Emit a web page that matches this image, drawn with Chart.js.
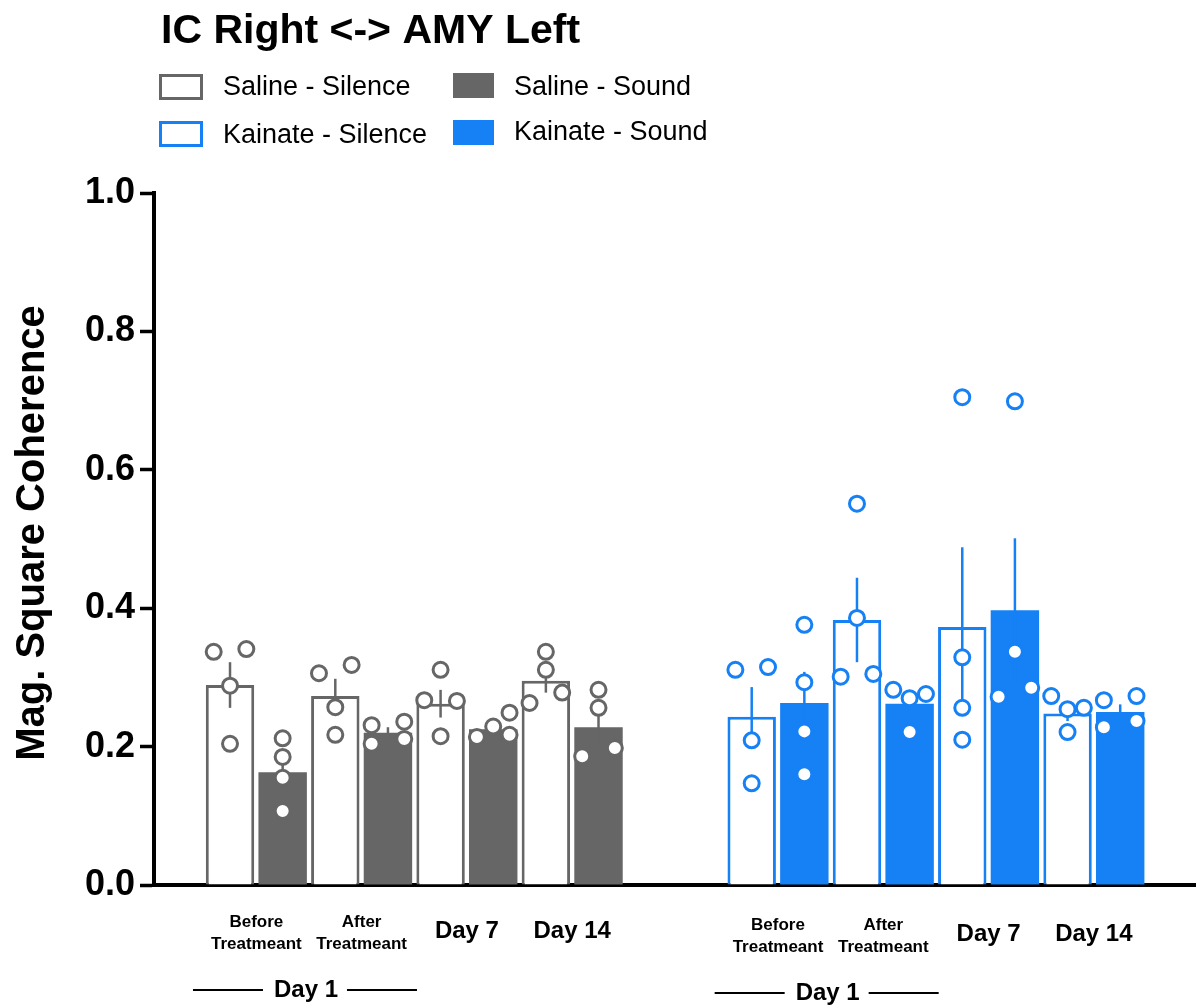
<!DOCTYPE html>
<html>
<head>
<meta charset="utf-8">
<script src="https://cdn.jsdelivr.net/npm/chart.js@4.4.1/dist/chart.umd.min.js"></script>
<style>
  html, body { margin: 0; padding: 0; background: #fff; }
  #wrap { width: 1196px; height: 1007px; position: relative; }
</style>
</head>
<body>
<div id="wrap"><canvas id="coh"></canvas></div>
<script>
var FONT = "'Liberation Sans', Arial, Helvetica, sans-serif";
var GREY = '#666666';
var BLUE = '#1680f5';

var chartTitle = 'IC Right <-> AMY Left';
var yTitle = 'Mag. Square Coherence';
var conditions = [['Before', 'Treatmeant'], ['After', 'Treatmeant'], ['Day 7'], ['Day 14']];
var dayOneLabel = 'Day 1';
var yTicks = [0, 0.2, 0.4, 0.6, 0.8, 1.0];

// group means
var salineSilence = [0.289, 0.273, 0.262, 0.295];
var salineSound = [0.163, 0.220, 0.225, 0.228];
var kainateSilence = [0.243, 0.383, 0.373, 0.248];
var kainateSound = [0.263, 0.262, 0.397, 0.250];

// SEM
var salineSilenceSem = [0.033, 0.025, 0.020, 0.017];
var salineSoundSem = [0.022, 0.008, 0.008, 0.023];
var kainateSilenceSem = [0.043, 0.061, 0.115, 0.011];
var kainateSoundSem = [0.045, 0.014, 0.104, 0.011];

// single animals, 4 per condition
var salineSilencePts = [[0.337, 0.341, 0.288, 0.204], [0.306, 0.318, 0.257, 0.217], [0.311, 0.267, 0.266, 0.215], [0.337, 0.311, 0.263, 0.278]];
var salineSoundPts = [[0.212, 0.185, 0.155, 0.107], [0.231, 0.236, 0.204, 0.211], [0.214, 0.229, 0.249, 0.217], [0.282, 0.256, 0.186, 0.198]];
var kainateSilencePts = [[0.311, 0.315, 0.209, 0.147], [0.551, 0.386, 0.301, 0.305], [0.705, 0.329, 0.256, 0.210], [0.273, 0.254, 0.256, 0.221]];
var kainateSoundPts = [[0.376, 0.293, 0.222, 0.160], [0.282, 0.270, 0.276, 0.221], [0.699, 0.337, 0.272, 0.285], [0.267, 0.273, 0.228, 0.237]];

// which column a dot sits in (-1 left, 0 middle, 1 right) so overlapping dots spread out
var salineSilenceSlot = [[-1, 1, 0, 0], [-1, 1, 0, 0], [0, -1, 1, 0], [0, 0, -1, 1]];
var salineSoundSlot = [[0, 0, 0, 0], [-1, 1, -1, 1], [-1, 0, 1, 1], [0, 0, -1, 1]];
var kainateSilenceSlot = [[-1, 1, 0, 0], [0, 0, -1, 1], [0, 0, 0, 0], [-1, 0, 1, 0]];
var kainateSoundSlot = [[0, 0, 0, 0], [-1, 0, 1, 0], [0, 0, -1, 1], [-1, 1, -1, 1]];

// x positions (axis units): one unit per bar, gap between the two groups
var groupStart = [1, 10.91];
var SPREAD = 0.31;

function barData(start, vals, offset) {
  return vals.map(function (v, c) { return { x: start + 2 * c + offset, y: v }; });
}
function dotData(start, pts, slots, offset) {
  var out = [];
  pts.forEach(function (list, c) {
    list.forEach(function (v, k) {
      out.push({ x: start + 2 * c + offset + slots[c][k] * SPREAD, y: v });
    });
  });
  return out;
}

function barSet(label, start, vals, sem, offset, color, hollow) {
  return {
    type: 'bar',
    label: label,
    data: barData(start, vals, offset),
    sem: sem,
    backgroundColor: hollow ? '#ffffff' : color,
    borderColor: color,
    borderWidth: hollow ? 3 : 0,
    hollow: hollow,
    grouped: false,
    barPercentage: 0.92,
    categoryPercentage: 1,
    order: 1
  };
}
function dotSet(start, pts, slots, offset, color) {
  return {
    type: 'scatter',
    data: dotData(start, pts, slots, offset),
    pointRadius: 7.5,
    pointBorderWidth: 3,
    pointBackgroundColor: '#ffffff',
    pointBorderColor: color,
    order: 0
  };
}

var datasets = [
  barSet('Saline - Silence', groupStart[0], salineSilence, salineSilenceSem, 0, GREY, true),
  barSet('Saline - Sound', groupStart[0], salineSound, salineSoundSem, 1, GREY, false),
  barSet('Kainate - Silence', groupStart[1], kainateSilence, kainateSilenceSem, 0, BLUE, true),
  barSet('Kainate - Sound', groupStart[1], kainateSound, kainateSoundSem, 1, BLUE, false),
  dotSet(groupStart[0], salineSilencePts, salineSilenceSlot, 0, GREY),
  dotSet(groupStart[0], salineSoundPts, salineSoundSlot, 1, GREY),
  dotSet(groupStart[1], kainateSilencePts, kainateSilenceSlot, 0, BLUE),
  dotSet(groupStart[1], kainateSoundPts, kainateSoundSlot, 1, BLUE)
];

// SEM whiskers, drawn right after each bar set so the dots sit on top
var errorBars = {
  id: 'errorBars',
  afterDatasetDraw: function (chart, args) {
    var ds = chart.data.datasets[args.index];
    if (!ds.sem) return;
    var ctx = chart.ctx, y = chart.scales.y;
    ctx.save();
    ctx.strokeStyle = ds.borderColor;
    ctx.lineWidth = 2.5;
    args.meta.data.forEach(function (bar, i) {
      var m = ds.data[i].y, s = ds.sem[i];
      ctx.beginPath();
      ctx.moveTo(bar.x, y.getPixelForValue(m + s));
      ctx.lineTo(bar.x, y.getPixelForValue(m - s));
      ctx.stroke();
    });
    ctx.restore();
  }
};

// title, legend, y title and the condition labels under the axis
var decorations = {
  id: 'decorations',
  afterDraw: function (chart) {
    var ctx = chart.ctx, xs = chart.scales.x;
    ctx.save();
    ctx.fillStyle = '#000';
    ctx.textBaseline = 'alphabetic';
    ctx.textAlign = 'left';
    ctx.font = 'bold 41px ' + FONT;
    ctx.fillText(chartTitle, 161, 43);

    var boxes = [
      { ds: 0, x: 159, y: 74, w: 44, h: 26, tx: 223, ty: 95 },
      { ds: 1, x: 453, y: 73, w: 41, h: 25, tx: 514, ty: 94.5 },
      { ds: 2, x: 159, y: 121, w: 44, h: 26, tx: 223, ty: 142.5 },
      { ds: 3, x: 453, y: 120, w: 41, h: 25, tx: 514, ty: 139.5 }
    ];
    ctx.font = '27px ' + FONT;
    boxes.forEach(function (b) {
      var ds = chart.data.datasets[b.ds];
      if (ds.hollow) {
        ctx.strokeStyle = ds.borderColor;
        ctx.lineWidth = 3;
        ctx.strokeRect(b.x + 1.5, b.y + 1.5, b.w - 3, b.h - 3);
      } else {
        ctx.fillStyle = ds.backgroundColor;
        ctx.fillRect(b.x, b.y, b.w, b.h);
      }
      ctx.fillStyle = '#000';
      ctx.fillText(ds.label, b.tx, b.ty);
    });

    ctx.save();
    ctx.translate(44, 533);
    ctx.rotate(-Math.PI / 2);
    ctx.textAlign = 'center';
    ctx.font = 'bold 40px ' + FONT;
    ctx.fillText(yTitle, 0, 0);
    ctx.restore();

    ctx.textAlign = 'center';
    ctx.textBaseline = 'middle';
    groupStart.forEach(function (start, g) {
      var dy = g * 3;
      var centres = conditions.map(function (lab, c) {
        return xs.getPixelForValue(start + 2 * c + 0.5);
      });
      conditions.forEach(function (lab, c) {
        if (lab.length > 1) {
          ctx.font = 'bold 17px ' + FONT;
          ctx.fillText(lab[0], centres[c], 922 + dy);
          ctx.fillText(lab[1], centres[c], 944 + dy);
        } else {
          ctx.font = 'bold 24px ' + FONT;
          ctx.fillText(lab[0], centres[c], 931 + dy);
        }
      });
      // "Day 1" bracket under the two first-day conditions
      var mid = (centres[0] + centres[1]) / 2 - 3;
      var ly = 990 + dy;
      ctx.font = 'bold 24px ' + FONT;
      ctx.fillText(dayOneLabel, mid, ly);
      ctx.strokeStyle = '#000';
      ctx.lineWidth = 2;
      ctx.beginPath();
      ctx.moveTo(mid - 113, ly); ctx.lineTo(mid - 43, ly);
      ctx.moveTo(mid + 41, ly); ctx.lineTo(mid + 111, ly);
      ctx.stroke();
    });
    ctx.restore();
  }
};

new Chart(document.getElementById('coh'), {
  type: 'bar',
  data: { datasets: datasets },
  plugins: [errorBars, decorations],
  options: {
    responsive: true,
    maintainAspectRatio: false,
    animation: false,
    devicePixelRatio: 1,
    layout: { autoPadding: false, padding: { top: 193, bottom: 122, left: 0, right: 0 } },
    plugins: { legend: { display: false }, tooltip: { enabled: false }, title: { display: false } },
    scales: {
      x: {
        type: 'linear',
        offset: false,
        bounds: 'data',
        min: -0.444,
        max: 19.35,
        ticks: { display: false },
        grid: { display: false, offset: false },
        border: { display: true, color: '#000', width: 4 },
        afterFit: function (s) { s.height = 0; s.paddingLeft = 0; s.paddingRight = 0; }
      },
      y: {
        min: 0,
        max: 1,
        afterBuildTicks: function (s) { s.ticks = yTicks.map(function (v) { return { value: v }; }); },
        ticks: {
          padding: 5,
          color: '#000',
          font: { family: FONT, size: 36, weight: 'bold' },
          callback: function (v) { return Number(v).toFixed(1); }
        },
        grid: { display: true, drawOnChartArea: false, drawTicks: true, tickLength: 14, tickWidth: 3.5, tickColor: '#000' },
        border: { display: true, color: '#000', width: 4 },
        afterFit: function (s) { s.width = 154; }
      }
    }
  }
});
</script>
</body>
</html>
